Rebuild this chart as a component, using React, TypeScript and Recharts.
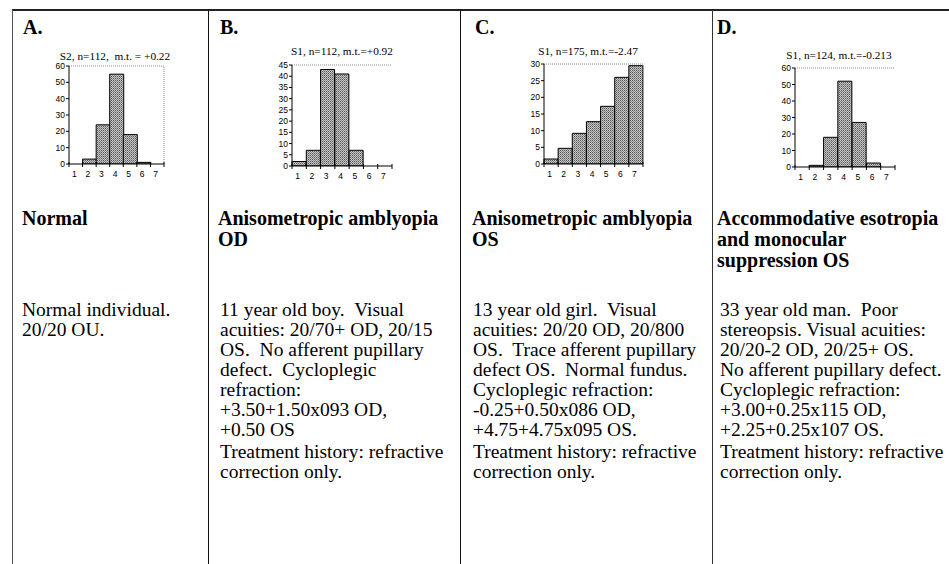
import React from "react";
import { BarChart, Bar, XAxis, YAxis, ReferenceLine } from "recharts";

// bins on the x axis (score 1..7)
const bins = ["1", "2", "3", "4", "5", "6", "7"];

// bar heights
const countsA = [0, 3, 24, 55, 18, 1, 0];
const countsB = [2, 7, 43, 41, 7, 0, 0];
const countsC = [1.5, 4.7, 9.2, 12.7, 17.3, 26, 29.5];
const countsD = [0, 1, 18, 52, 27, 2.4, 0];

// y tick labels
const ticksA = [0, 10, 20, 30, 40, 50, 60];
const ticksB = [0, 5, 10, 15, 20, 25, 30, 35, 40, 45];
const ticksC = [0, 5, 10, 15, 20, 25, 30];
const ticksD = [0, 10, 20, 30, 40, 50, 60];

const titleA = "S2, n=112,  m.t. = +0.22";
const titleB = "S1, n=112, m.t.=+0.92";
const titleC = "S1, n=175, m.t.=-2.47";
const titleD = "S1, n=124, m.t.=-0.213";

const headA = ["Normal"];
const headB = ["Anisometropic amblyopia", "OD"];
const headC = ["Anisometropic amblyopia", "OS"];
const headD = ["Accommodative esotropia", "and monocular", "suppression OS"];

const bodyA = ["Normal individual.", "20/20 OU."];
const bodyB = [
  "11 year old boy.  Visual",
  "acuities: 20/70+ OD, 20/15",
  "OS.  No afferent pupillary",
  "defect.  Cycloplegic",
  "refraction:",
  "+3.50+1.50x093 OD,",
  "+0.50 OS",
];
const bodyC = [
  "13 year old girl.  Visual",
  "acuities: 20/20 OD, 20/800",
  "OS.  Trace afferent pupillary",
  "defect OS.  Normal fundus.",
  "Cycloplegic refraction:",
  "-0.25+0.50x086 OD,",
  "+4.75+4.75x095 OS.",
];
const bodyD = [
  "33 year old man.  Poor",
  "stereopsis. Visual acuities:",
  "20/20-2 OD, 20/25+ OS.",
  "No afferent pupillary defect.",
  "Cycloplegic refraction:",
  "+3.00+0.25x115 OD,",
  "+2.25+0.25x107 OS.",
];
const treatment = ["Treatment history: refractive", "correction only."];

const SERIF = '"Liberation Serif", "Times New Roman", serif';
const SANS = '"Liberation Sans", Arial, sans-serif';

const Y_W = 24;
const PAD_T = 4;
const PAD_R = 4;
const X_H = 20;

type Box = { x0: number; x1: number; y0: number; y1: number };

type HistProps = {
  id: string;
  counts: number[];
  ticks: number[];
  title: string;
  box: Box;
  titleX: number;
  titleY: number;
};

const frameLine = { stroke: "#8a8a8a", strokeDasharray: "1 1" };

const Histogram = ({ id, counts, ticks, title, box, titleX, titleY }: HistProps) => {
  const data = bins.map((bin, i) => ({ bin, count: counts[i] }));
  const plotW = box.x1 - box.x0;
  const plotH = box.y1 - box.y0;
  const bw = plotW / bins.length;
  const yMax = ticks[ticks.length - 1];

  // label in the middle of each bin, tick marks on the bin edges
  const binTick = (p: any) => {
    const { x, y, payload, index } = p;
    return (
      <g>
        <line x1={x - bw / 2} x2={x - bw / 2} y1={y - 2} y2={y + 3} stroke="#000" />
        {index === bins.length - 1 && (
          <line x1={x + bw / 2} x2={x + bw / 2} y1={y - 2} y2={y + 3} stroke="#000" />
        )}
        <text x={x - 1.5} y={y + 13} textAnchor="middle" fontSize={8.5} fontFamily={SANS} fill="#000">
          {payload.value}
        </text>
      </g>
    );
  };

  return (
    <>
      <div
        style={{
          position: "absolute",
          left: titleX - 90,
          width: 180,
          top: titleY - 8,
          lineHeight: "16px",
          textAlign: "center",
          fontSize: 11.3,
          fontFamily: SERIF,
          whiteSpace: "pre",
        }}
      >
        {title}
      </div>
      <div style={{ position: "absolute", left: box.x0 - Y_W, top: box.y0 - PAD_T }}>
        <BarChart
          width={plotW + Y_W + PAD_R}
          height={plotH + PAD_T + X_H}
          data={data}
          margin={{ top: PAD_T, right: PAD_R, bottom: 0, left: 0 }}
          barCategoryGap={0}
        >
          <defs>
            <pattern id={id} width="2" height="2" patternUnits="userSpaceOnUse">
              <rect width="2" height="2" fill="#c6c6c6" />
              <rect width="1" height="1" fill="#555" />
              <rect x="1" y="1" width="1" height="1" fill="#888" />
            </pattern>
          </defs>
          <XAxis
            dataKey="bin"
            height={X_H}
            interval={0}
            tickSize={0}
            tickMargin={0}
            tickLine={false}
            axisLine={{ stroke: "#000" }}
            tick={binTick}
          />
          <YAxis
            width={Y_W}
            domain={[0, yMax]}
            ticks={ticks}
            interval={0}
            tickSize={3}
            tickMargin={1}
            allowDataOverflow
            axisLine={{ stroke: "#000" }}
            tickLine={{ stroke: "#000" }}
            tick={{ fontSize: 8.5, fill: "#000", fontFamily: SANS }}
          />
          {/* dotted frame along the top and right of the plot */}
          <ReferenceLine y={yMax} {...frameLine} />
          <ReferenceLine x={bins[bins.length - 1]} position="end" {...frameLine} />
          <Bar
            dataKey="count"
            fill={`url(#${id})`}
            stroke="#000"
            strokeWidth={1}
            isAnimationActive={false}
          />
        </BarChart>
      </div>
    </>
  );
};

type LinesProps = {
  lines: string[];
  left: number;
  top: number;
  size: number;
  lh: number;
  bold?: boolean;
};

const Lines = ({ lines, left, top, size, lh, bold }: LinesProps) => (
  <div
    style={{
      position: "absolute",
      left,
      top,
      fontSize: size,
      lineHeight: `${lh}px`,
      fontWeight: bold ? 700 : 400,
      fontFamily: SERIF,
      whiteSpace: "pre",
      color: "#000",
    }}
  >
    {lines.map((l, i) => (
      <div key={i}>{l}</div>
    ))}
  </div>
);

const VLine = ({ x, color }: { x: number; color: string }) => (
  <div style={{ position: "absolute", left: x, top: 10, width: 1, height: 554, background: color }} />
);

const BODY = 19.5;
const BODY_LH = 20;
const BODY_TOP = 300;
const TREAT_TOP = BODY_TOP + 7 * BODY_LH + 1.5;

const App: React.FC = () => {
  return (
    <div
      style={{
        position: "absolute",
        left: 0,
        top: 0,
        width: 949,
        height: 564,
        overflow: "hidden",
        background: "#fff",
      }}
    >
      {/* table rules */}
      <div style={{ position: "absolute", left: 12, top: 9, width: 937, height: 2, background: "#222" }} />
      <VLine x={12} color="#555" />
      <VLine x={208} color="#111" />
      <VLine x={460} color="#111" />
      <VLine x={712} color="#333" />

      <Lines lines={["A."]} left={23} top={17} size={20} lh={20} bold />
      <Lines lines={["B."]} left={220} top={17} size={20} lh={20} bold />
      <Lines lines={["C."]} left={475} top={17} size={20} lh={20} bold />
      <Lines lines={["D."]} left={717} top={17} size={20} lh={20} bold />

      <Histogram id="patA" counts={countsA} ticks={ticksA} title={titleA} box={{ x0: 69, x1: 164, y0: 66, y1: 164 }} titleX={115} titleY={56} />
      <Histogram id="patB" counts={countsB} ticks={ticksB} title={titleB} box={{ x0: 292, x1: 392, y0: 65, y1: 166 }} titleX={342} titleY={51} />
      <Histogram id="patC" counts={countsC} ticks={ticksC} title={titleC} box={{ x0: 544, x1: 643, y0: 64, y1: 164 }} titleX={588} titleY={51} />
      <Histogram id="patD" counts={countsD} ticks={ticksD} title={titleD} box={{ x0: 795, x1: 895, y0: 68, y1: 167 }} titleX={839} titleY={55} />

      <Lines lines={headA} left={22} top={208} size={20} lh={21} bold />
      <Lines lines={headB} left={218} top={208} size={20} lh={21} bold />
      <Lines lines={headC} left={472} top={208} size={20} lh={21} bold />
      <Lines lines={headD} left={717} top={208} size={20} lh={21} bold />

      <Lines lines={bodyA} left={22} top={BODY_TOP} size={BODY} lh={BODY_LH} />
      <Lines lines={bodyB} left={220} top={BODY_TOP} size={BODY} lh={BODY_LH} />
      <Lines lines={treatment} left={220} top={TREAT_TOP} size={BODY} lh={BODY_LH} />
      <Lines lines={bodyC} left={473} top={BODY_TOP} size={BODY} lh={BODY_LH} />
      <Lines lines={treatment} left={473} top={TREAT_TOP} size={BODY} lh={BODY_LH} />
      <Lines lines={bodyD} left={720} top={BODY_TOP} size={BODY} lh={BODY_LH} />
      <Lines lines={treatment} left={720} top={TREAT_TOP} size={BODY} lh={BODY_LH} />
    </div>
  );
};

export default App;
